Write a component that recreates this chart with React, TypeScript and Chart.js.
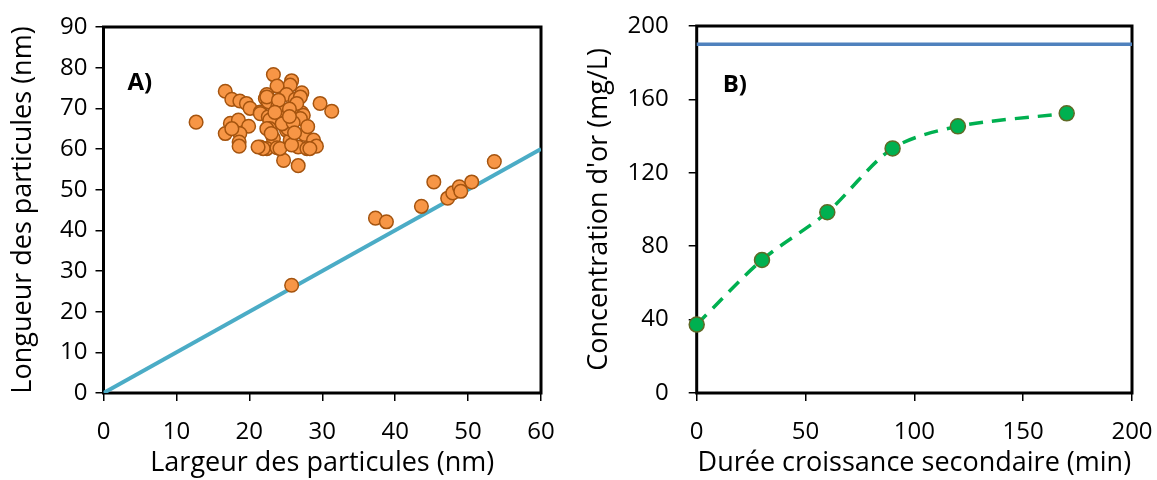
import React, { useEffect, useRef } from "react";
import { Chart, registerables } from "chart.js";

Chart.register(...registerables);

// ---------- Panel A data (particle width vs length, nm) ----------
const particleWidth = [
  23.3, 25.8, 25.6, 23.8, 16.7, 17.6, 18.7, 19.6, 20.1, 21.5,
  22.4, 22.2, 22.6, 25.1, 27.2, 26.3, 29.7, 31.3, 21.5, 22.6,
  24.4, 26.7, 27.2, 17.4, 18.5, 19.9, 16.7, 18.7, 18.6, 18.6,
  22.8, 22.8, 25.1, 27.6, 23.3, 25.6, 28.8, 29.2, 21.5, 22.4,
  23.8, 26.7, 27.9, 24.7, 26.7, 24.2, 27.4, 27.0, 26.5, 22.4,
  25.3, 27.0, 24.2, 21.9, 22.4, 17.6, 21.2, 28.3, 23.9, 25.5,
  24.5, 26.0, 23.0, 25.8, 26.2, 28.0, 24.0, 25.5, 23.5, 12.7,
  25.8, 37.3, 38.8, 43.6, 45.3, 47.2, 47.9, 48.8, 49.0, 50.5, 53.6,
];
const particleLength = [
  78.3, 76.8, 75.7, 75.5, 74.2, 72.2, 71.8, 71.2, 70.0, 69.1,
  73.4, 72.4, 71.6, 73.4, 73.8, 72.2, 71.2, 69.3, 68.7, 67.9,
  67.5, 68.3, 68.9, 66.3, 67.1, 65.6, 63.8, 63.8, 61.7, 60.7,
  67.1, 65.0, 64.6, 63.6, 62.6, 62.2, 62.2, 60.7, 60.5, 60.1,
  60.3, 60.5, 60.1, 57.2, 55.9, 69.5, 68.3, 72.8, 71.2, 72.8,
  65.0, 67.5, 60.1, 60.1, 65.0, 65.0, 60.5, 60.1, 70.5, 69.8,
  66.2, 66.5, 63.8, 61.0, 64.0, 65.5, 72.0, 68.0, 69.0, 66.6,
  26.5, 43.0, 42.1, 45.9, 51.9, 47.9, 49.2, 50.7, 49.6, 51.9, 56.9,
];
const diagonalX = [0, 60];
const diagonalY = [0, 60];

// ---------- Panel B data (growth time vs gold concentration) ----------
const growthTime = [0, 30, 60, 90, 120, 170];
const goldConc = [37.3, 72.5, 98.5, 133.3, 145.3, 152.4];
const maxConcX = [0, 200];
const maxConcY = [190, 190];

// ---------- Axis definitions ----------
const axisA = { xMin: 0, xMax: 60, xStep: 10, yMin: 0, yMax: 90, yStep: 10 };
const axisB = { xMin: 0, xMax: 200, xStep: 50, yMin: 0, yMax: 200, yStep: 40 };
const titlesA = { x: "Largeur des particules (nm)", y: "Longueur des particules (nm)", tag: "A)" };
const titlesB = { x: "Durée croissance secondaire (min)", y: "Concentration d'or (mg/L)", tag: "B)" };

const FONT = "'Open Sans', Lato, sans-serif";
const TICK_SIZE = 24;
const TITLE_SIZE = 27;

const zip = (xs: number[], ys: number[]) => xs.map((x, i) => ({ x, y: ys[i] }));

function makeFramePlugin(tag: string, dx: number, dy: number) {
  return {
    id: "frame",
    beforeDatasetsDraw(chart: any) {
      const { ctx, chartArea } = chart;
      const { left, top, right, bottom } = chartArea;
      ctx.save();
      ctx.strokeStyle = "#000";
      ctx.lineWidth = 3;
      ctx.strokeRect(left, top, right - left, bottom - top);
      ctx.fillStyle = "#000";
      ctx.font = `bold 24px ${FONT}`;
      ctx.textAlign = "left";
      ctx.textBaseline = "middle";
      ctx.fillText(tag, left + dx, top + dy);
      ctx.restore();
    },
  };
}

function scaleOpts(
  min: number,
  max: number,
  step: number,
  title: string,
  isX: boolean,
  size: number,
  tickPad: number,
  titlePad: number
) {
  return {
    type: "linear",
    min,
    max,
    position: isX ? "bottom" : "left",
    border: { display: false },
    grid: {
      drawOnChartArea: false,
      drawTicks: true,
      tickLength: 8,
      lineWidth: 1.5,
      color: "#000",
    },
    ticks: {
      stepSize: step,
      color: "#000",
      padding: tickPad,
      font: { family: FONT, size: TICK_SIZE },
      maxRotation: 0,
    },
    title: {
      display: true,
      text: title,
      color: "#000",
      font: { family: FONT, size: TITLE_SIZE },
      padding: isX ? { top: 0, bottom: titlePad } : { top: titlePad, bottom: 0 },
    },
    afterFit(scale: any) {
      if (isX) scale.height = size;
      else scale.width = size;
      // let the layout padding alone decide the plot-area edges
      scale.paddingLeft = 0;
      scale.paddingRight = 0;
      scale.paddingTop = 0;
      scale.paddingBottom = 0;
    },
  };
}

function ChartA() {
  const ref = useRef<HTMLCanvasElement>(null);
  useEffect(() => {
    if (!ref.current) return;
    const chart = new Chart(ref.current, {
      type: "scatter",
      data: {
        datasets: [
          {
            data: zip(particleWidth, particleLength),
            backgroundColor: "#F79646",
            borderColor: "#A5540F",
            borderWidth: 1.5,
            pointRadius: 6.8,
            pointHoverRadius: 6.8,
            showLine: false,
          },
          {
            type: "line",
            data: zip(diagonalX, diagonalY),
            borderColor: "#4BACC6",
            borderWidth: 4,
            pointRadius: 0,
            fill: false,
          },
        ],
      } as any,
      options: {
        animation: false,
        responsive: false,
        maintainAspectRatio: false,
        layout: { autoPadding: false, padding: { left: 0, right: 39, top: 27, bottom: 0 } },
        plugins: { legend: { display: false }, tooltip: { enabled: false } },
        scales: {
          x: scaleOpts(axisA.xMin, axisA.xMax, axisA.xStep, titlesA.x, true, 87, 17, 0),
          y: scaleOpts(axisA.yMin, axisA.yMax, axisA.yStep, titlesA.y, false, 103.5, 8, 7),
        } as any,
      },
      plugins: [makeFramePlugin(titlesA.tag, 24, 56)],
    });
    return () => chart.destroy();
  }, []);
  return <canvas ref={ref} width={580} height={480} />;
}

function ChartB() {
  const ref = useRef<HTMLCanvasElement>(null);
  useEffect(() => {
    if (!ref.current) return;
    const chart = new Chart(ref.current, {
      type: "line",
      data: {
        datasets: [
          {
            data: zip(growthTime, goldConc),
            borderColor: "#00B050",
            borderWidth: 3.5,
            borderDash: [14, 9],
            tension: 0.3,
            pointRadius: 7.5,
            pointHoverRadius: 7.5,
            pointBackgroundColor: "#00B050",
            pointBorderColor: "#5E6A26",
            pointBorderWidth: 1.5,
            clip: false,
            fill: false,
          },
          {
            data: zip(maxConcX, maxConcY),
            borderColor: "#4F81BD",
            borderWidth: 3.5,
            pointRadius: 0,
            clip: false,
            fill: false,
          },
        ],
      } as any,
      options: {
        animation: false,
        responsive: false,
        maintainAspectRatio: false,
        layout: { autoPadding: false, padding: { left: 0, right: 25, top: 26, bottom: 0 } },
        plugins: { legend: { display: false }, tooltip: { enabled: false } },
        scales: {
          x: scaleOpts(axisB.xMin, axisB.xMax, axisB.xStep, titlesB.x, true, 87, 17, 0),
          y: scaleOpts(axisB.yMin, axisB.yMax, axisB.yStep, titlesB.y, false, 116.7, 20, 3),
        } as any,
      },
      plugins: [makeFramePlugin(titlesB.tag, 26, 59)],
    });
    return () => chart.destroy();
  }, []);
  return <canvas ref={ref} width={577} height={480} />;
}

export default function App() {
  return (
    <div style={{ position: "absolute", left: 0, top: 0, width: 1157, height: 480, background: "#fff" }}>
      <div style={{ position: "absolute", left: 0, top: 0, width: 580, height: 480 }}>
        <ChartA />
      </div>
      <div style={{ position: "absolute", left: 580, top: 0, width: 577, height: 480 }}>
        <ChartB />
      </div>
    </div>
  );
}
